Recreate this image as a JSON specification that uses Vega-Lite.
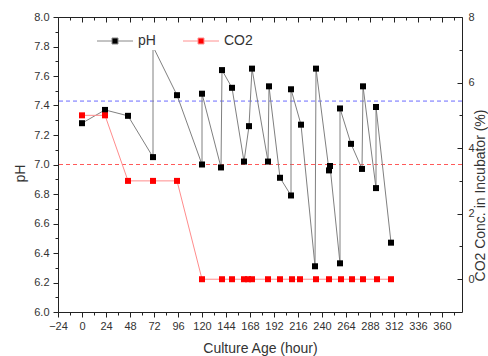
{
  "$schema": "https://vega.github.io/schema/vega-lite/v6.json",
  "width": 404,
  "height": 295,
  "autosize": "none",
  "padding": {"left": 58, "top": 17, "right": 26, "bottom": 44},
  "background": "white",
  "config": {
    "font": "Liberation Sans",
    "view": {"stroke": null},
    "axis": {
      "labelFont": "Liberation Sans",
      "titleFont": "Liberation Sans",
      "labelColor": "#333333",
      "titleColor": "#333333",
      "domainColor": "#222222",
      "tickColor": "#222222",
      "grid": false,
      "labelFontSize": 11,
      "titleFontSize": 14,
      "titleFontWeight": "normal",
      "labelOverlap": false,
      "labelFlush": false,
      "tickCount": 100
    }
  },
  "datasets": {
    "ph": [
      {"seq": 1, "hour": 0, "pH": 7.28},
      {"seq": 2, "hour": 23, "pH": 7.37},
      {"seq": 3, "hour": 46, "pH": 7.33},
      {"seq": 4, "hour": 71, "pH": 7.05},
      {"seq": 5, "hour": 71, "pH": 7.8},
      {"seq": 6, "hour": 95, "pH": 7.47},
      {"seq": 7, "hour": 120, "pH": 7.0},
      {"seq": 8, "hour": 120, "pH": 7.48},
      {"seq": 9, "hour": 139, "pH": 6.98},
      {"seq": 10, "hour": 140, "pH": 7.64},
      {"seq": 11, "hour": 150, "pH": 7.52},
      {"seq": 12, "hour": 162, "pH": 7.02},
      {"seq": 13, "hour": 167, "pH": 7.26},
      {"seq": 14, "hour": 170, "pH": 7.65},
      {"seq": 15, "hour": 186, "pH": 7.02},
      {"seq": 16, "hour": 187, "pH": 7.53},
      {"seq": 17, "hour": 198, "pH": 6.91},
      {"seq": 18, "hour": 209, "pH": 6.79},
      {"seq": 19, "hour": 209, "pH": 7.51},
      {"seq": 20, "hour": 219, "pH": 7.27},
      {"seq": 21, "hour": 233, "pH": 6.31},
      {"seq": 22, "hour": 234, "pH": 7.65},
      {"seq": 23, "hour": 247, "pH": 6.96},
      {"seq": 24, "hour": 248, "pH": 6.99},
      {"seq": 25, "hour": 258, "pH": 6.33},
      {"seq": 26, "hour": 258, "pH": 7.38},
      {"seq": 27, "hour": 269, "pH": 7.14},
      {"seq": 28, "hour": 280, "pH": 6.97},
      {"seq": 29, "hour": 281, "pH": 7.53},
      {"seq": 30, "hour": 294, "pH": 6.84},
      {"seq": 31, "hour": 294, "pH": 7.39},
      {"seq": 32, "hour": 309, "pH": 6.47}
    ],
    "co2": [
      {"hour": 0, "co2": 5},
      {"hour": 23, "co2": 5},
      {"hour": 46, "co2": 3},
      {"hour": 71, "co2": 3},
      {"hour": 95, "co2": 3},
      {"hour": 120, "co2": 0},
      {"hour": 140, "co2": 0},
      {"hour": 150, "co2": 0},
      {"hour": 162, "co2": 0},
      {"hour": 166, "co2": 0},
      {"hour": 170, "co2": 0},
      {"hour": 186, "co2": 0},
      {"hour": 198, "co2": 0},
      {"hour": 210, "co2": 0},
      {"hour": 218, "co2": 0},
      {"hour": 234, "co2": 0},
      {"hour": 247, "co2": 0},
      {"hour": 259, "co2": 0},
      {"hour": 270, "co2": 0},
      {"hour": 281, "co2": 0},
      {"hour": 295, "co2": 0},
      {"hour": 309, "co2": 0}
    ]
  },
  "layer": [
    {
      "layer": [
        {
          "data": {"values": [{"pH": 7.43}]},
          "mark": {"type": "rule", "color": "#6a6aff", "strokeDash": [4, 3], "strokeWidth": 1},
          "encoding": {"y": {"field": "pH", "type": "quantitative"}}
        },
        {
          "data": {"values": [{"pH": 7.0}]},
          "mark": {"type": "rule", "color": "#ff5a5a", "strokeDash": [4, 3], "strokeWidth": 1},
          "encoding": {"y": {"field": "pH", "type": "quantitative"}}
        },
        {
          "data": {"name": "ph"},
          "mark": {"type": "line", "color": "#808080", "strokeWidth": 1},
          "encoding": {
            "x": {
              "field": "hour", "type": "quantitative",
              "scale": {"domain": [-24, 380], "nice": false, "zero": false},
              "axis": {
                "orient": "bottom",
                "values": [-24, 0, 24, 48, 72, 96, 120, 144, 168, 192, 216, 240, 264, 288, 312, 336, 360],
                "tickCount": 100,
                "format": "d",
                "labelOverlap": false,
                "tickSize": 5,
                "labelPadding": 3,
                "title": "Culture Age (hour)",
                "titleX": 202,
                "titleY": 36,
                "titleBaseline": "middle",
                "titleAlign": "center"
              }
            },
            "y": {
              "field": "pH", "type": "quantitative",
              "scale": {"domain": [6, 8], "nice": false, "zero": false},
              "axis": {
                "orient": "left",
                "values": [6.0, 6.2, 6.4, 6.6, 6.8, 7.0, 7.2, 7.4, 7.6, 7.8, 8.0],
                "tickCount": 100,
                "format": ".1f",
                "labelOverlap": false,
                "tickSize": 5,
                "labelPadding": 4,
                "title": "pH",
                "titleX": -38,
                "titleY": 156,
                "titleAngle": 270,
                "titleAlign": "center",
                "titleBaseline": "middle"
              }
            },
            "order": {"field": "seq", "type": "quantitative"}
          }
        }
      ]
    },
    {
      "data": {"name": "ph"},
      "mark": {"type": "point", "shape": "square", "filled": true, "size": 36, "opacity": 1},
      "encoding": {
        "x": {
          "field": "hour", "type": "quantitative",
          "axis": {
            "orient": "bottom",
            "values": [-12, 12, 36, 60, 84, 108, 132, 156, 180, 204, 228, 252, 276, 300, 324, 348, 372],
            "tickCount": 100,
            "labels": false,
            "domain": false,
            "tickSize": 3,
            "title": null
          }
        },
        "y": {
          "field": "pH", "type": "quantitative",
          "scale": {"domain": [6, 8], "nice": false, "zero": false},
          "axis": {
            "orient": "left",
            "values": [6.1, 6.3, 6.5, 6.7, 6.9, 7.1, 7.3, 7.5, 7.7, 7.9],
            "tickCount": 100,
            "labels": false,
            "domain": false,
            "tickSize": 3,
            "title": null
          }
        },
        "color": {
          "datum": "pH",
          "scale": {"domain": ["pH", "CO2"], "range": ["#000000", "#ff0000"]},
          "legend": {
            "title": null,
            "orient": "none",
            "legendX": 48,
            "legendY": 15,
            "direction": "horizontal",
            "fillColor": "white",
            "padding": 2,
            "symbolType": "M-3,0H-0.5M0.5,0H3M-0.5,-0.5H0.5V0.5H-0.5Z",
            "symbolSize": 144,
            "symbolStrokeWidth": 1,
            "symbolStrokeColor": {"expr": "datum.value === 'pH' ? '#888888' : '#ff9090'"},
            "labelFont": "Liberation Sans",
            "labelFontSize": 14,
            "labelColor": "#333333",
            "labelOffset": 16,
            "columnPadding": 25
          }
        }
      }
    },
    {
      "layer": [
        {
          "data": {"name": "co2"},
          "mark": {"type": "line", "color": "#ff8c8c", "strokeWidth": 1},
          "encoding": {
            "x": {
              "field": "hour", "type": "quantitative",
              "axis": {
                "orient": "top",
                "values": [-24, -12, 0, 12, 24, 36, 48, 60, 72, 84, 96, 108, 120, 132, 144, 156, 168, 180, 192, 204, 216, 228, 240, 252, 264, 276, 288, 300, 312, 324, 336, 348, 360, 372],
                "tickCount": 100,
                "labels": false,
                "tickSize": {"condition": {"test": "datum.value % 24 === 0", "value": -5}, "value": -3},
                "title": null
              }
            },
            "y": {
              "field": "co2", "type": "quantitative",
              "scale": {"domain": [-1, 8], "nice": false, "zero": false},
              "axis": {
                "orient": "right",
                "values": [0, 1, 2, 3, 4, 5, 6, 7, 8],
                "tickCount": 100,
                "format": "d",
                "labelOverlap": false,
                "labelExpr": "datum.value % 2 === 0 ? datum.label : ''",
                "tickSize": {"condition": {"test": "datum.value % 2 === 0", "value": -5}, "value": -3},
                "labelPadding": 11,
                "title": "CO2 Conc. in Incubator (%)",
                "titleX": 18,
                "titleY": 178,
                "titleAngle": 270,
                "titleAlign": "center",
                "titleBaseline": "middle"
              }
            }
          }
        },
        {
          "data": {"name": "co2"},
          "mark": {"type": "point", "shape": "square", "filled": true, "size": 36, "opacity": 1},
          "encoding": {
            "x": {"field": "hour", "type": "quantitative"},
            "y": {"field": "co2", "type": "quantitative"},
            "color": {
              "datum": "CO2",
              "legend": {
                "title": null,
                "orient": "none",
                "legendX": 48,
                "legendY": 15,
                "direction": "horizontal",
                "fillColor": "white",
                "padding": 2,
                "symbolType": "M-3,0H-0.5M0.5,0H3M-0.5,-0.5H0.5V0.5H-0.5Z",
                "symbolSize": 144,
                "symbolStrokeWidth": 1,
                "symbolStrokeColor": {"expr": "datum.value === 'pH' ? '#888888' : '#ff9090'"},
                "labelFont": "Liberation Sans",
                "labelFontSize": 14,
                "labelColor": "#333333",
                "labelOffset": 16,
                "columnPadding": 25
              }
            }
          }
        }
      ]
    }
  ],
  "resolve": {
    "scale": {"y": "independent"},
    "axis": {"x": "independent", "y": "independent"}
  }
}
